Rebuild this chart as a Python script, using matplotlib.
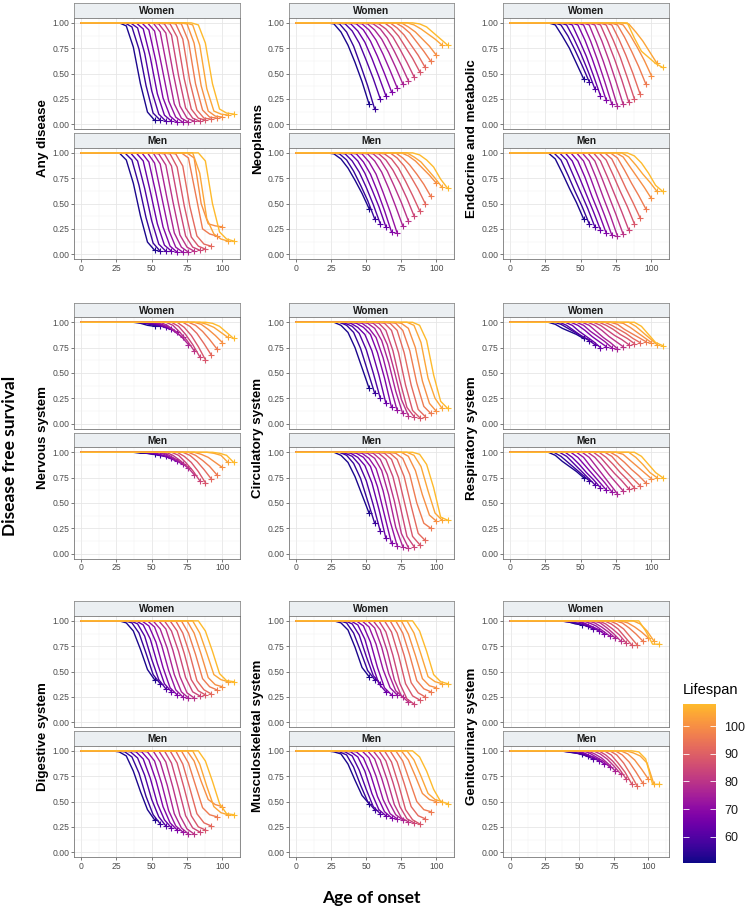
import numpy as np
import matplotlib
matplotlib.use("Agg")
import matplotlib.pyplot as plt
from matplotlib.colors import ListedColormap, Normalize
from matplotlib.cm import ScalarMappable

# lifespan groups (one curve each) and the ages, relative to lifespan,
# at which disease free survival was read off
lifespans = [52, 56, 60, 64, 68, 72, 76, 80, 84, 88, 92, 96, 100, 104, 108]
offsets = [-25, -20, -15, -10, -5, 0]

any_women = [
    [1.00, 0.97, 0.76, 0.40, 0.12, 0.04], [1.00, 0.96, 0.74, 0.38, 0.11, 0.04],
    [1.00, 0.95, 0.70, 0.33, 0.10, 0.03], [1.00, 0.94, 0.66, 0.30, 0.09, 0.03],
    [1.00, 0.93, 0.62, 0.26, 0.08, 0.02], [1.00, 0.92, 0.58, 0.23, 0.07, 0.02],
    [1.00, 0.91, 0.55, 0.20, 0.06, 0.02], [0.99, 0.90, 0.52, 0.18, 0.06, 0.03],
    [0.99, 0.88, 0.48, 0.16, 0.06, 0.03], [0.99, 0.86, 0.45, 0.15, 0.06, 0.04],
    [0.99, 0.84, 0.42, 0.14, 0.06, 0.05], [0.99, 0.82, 0.40, 0.14, 0.07, 0.06],
    [0.99, 0.80, 0.38, 0.13, 0.08, 0.07], [0.98, 0.78, 0.35, 0.13, 0.10, 0.09],
    [0.98, 0.80, 0.40, 0.15, 0.11, 0.10]]
any_men = [
    [1.00, 0.93, 0.70, 0.38, 0.12, 0.04], [1.00, 0.93, 0.68, 0.36, 0.11, 0.03],
    [1.00, 0.92, 0.65, 0.33, 0.10, 0.03], [1.00, 0.92, 0.62, 0.30, 0.09, 0.03],
    [1.00, 0.91, 0.60, 0.27, 0.08, 0.02], [1.00, 0.90, 0.57, 0.24, 0.07, 0.02],
    [1.00, 0.89, 0.54, 0.21, 0.07, 0.02], [0.99, 0.88, 0.52, 0.19, 0.07, 0.03],
    [0.99, 0.87, 0.50, 0.18, 0.07, 0.04], [0.99, 0.86, 0.48, 0.17, 0.08, 0.05],
    [0.99, 0.87, 0.47, 0.18, 0.10, 0.08], [1.00, 0.95, 0.60, 0.25, 0.20, 0.18],
    [1.00, 0.95, 0.50, 0.30, 0.28, 0.27], [1.00, 0.80, 0.35, 0.20, 0.15, 0.13],
    [1.00, 0.92, 0.50, 0.22, 0.15, 0.13]]
neo_women = [
    [0.99, 0.91, 0.78, 0.61, 0.42, 0.20], [0.99, 0.91, 0.77, 0.58, 0.38, 0.15],
    [0.99, 0.92, 0.80, 0.63, 0.45, 0.25], [0.99, 0.92, 0.81, 0.65, 0.47, 0.28],
    [0.99, 0.93, 0.82, 0.67, 0.50, 0.32], [0.99, 0.93, 0.83, 0.69, 0.53, 0.36],
    [0.99, 0.93, 0.84, 0.71, 0.56, 0.40], [0.99, 0.94, 0.85, 0.72, 0.58, 0.43],
    [0.99, 0.94, 0.86, 0.74, 0.61, 0.47], [1.00, 0.95, 0.87, 0.76, 0.65, 0.52],
    [1.00, 0.95, 0.88, 0.78, 0.68, 0.56], [1.00, 0.96, 0.90, 0.81, 0.72, 0.62],
    [1.00, 0.96, 0.91, 0.84, 0.77, 0.68], [1.00, 0.98, 0.94, 0.89, 0.84, 0.78],
    [1.00, 0.99, 0.96, 0.90, 0.84, 0.78]]
neo_men = [
    [0.99, 0.94, 0.85, 0.73, 0.60, 0.45], [0.99, 0.93, 0.82, 0.68, 0.53, 0.35],
    [0.99, 0.92, 0.81, 0.66, 0.49, 0.30], [0.99, 0.92, 0.80, 0.64, 0.47, 0.27],
    [0.99, 0.91, 0.79, 0.62, 0.43, 0.22], [0.99, 0.91, 0.79, 0.61, 0.42, 0.21],
    [0.99, 0.92, 0.81, 0.65, 0.47, 0.28], [0.99, 0.93, 0.82, 0.67, 0.51, 0.33],
    [0.99, 0.93, 0.83, 0.70, 0.55, 0.38], [0.99, 0.94, 0.85, 0.72, 0.58, 0.43],
    [1.00, 0.95, 0.87, 0.76, 0.64, 0.50], [1.00, 0.95, 0.88, 0.79, 0.69, 0.57],
    [1.00, 0.97, 0.92, 0.85, 0.78, 0.70], [1.00, 0.96, 0.91, 0.83, 0.75, 0.66],
    [1.00, 0.98, 0.93, 0.86, 0.74, 0.65]]
endo_women = [
    [1.00, 0.98, 0.87, 0.75, 0.60, 0.45], [1.00, 0.98, 0.87, 0.73, 0.58, 0.42],
    [1.00, 0.98, 0.85, 0.70, 0.53, 0.35], [1.00, 0.98, 0.83, 0.67, 0.48, 0.28],
    [1.00, 0.98, 0.83, 0.65, 0.45, 0.24], [1.00, 0.98, 0.82, 0.63, 0.42, 0.20],
    [1.00, 0.98, 0.81, 0.62, 0.41, 0.18], [1.00, 0.98, 0.82, 0.63, 0.42, 0.20],
    [1.00, 0.98, 0.82, 0.64, 0.44, 0.22], [1.00, 0.98, 0.83, 0.66, 0.46, 0.25],
    [1.00, 0.98, 0.84, 0.68, 0.50, 0.30], [1.00, 0.98, 0.86, 0.72, 0.57, 0.40],
    [1.00, 0.98, 0.88, 0.76, 0.63, 0.48], [1.00, 0.99, 0.91, 0.82, 0.71, 0.60],
    [1.00, 0.85, 0.72, 0.66, 0.60, 0.56]]
endo_men = [
    [1.00, 0.94, 0.80, 0.65, 0.51, 0.35], [1.00, 0.93, 0.78, 0.62, 0.47, 0.30],
    [1.00, 0.93, 0.77, 0.61, 0.45, 0.27], [1.00, 0.92, 0.76, 0.59, 0.42, 0.24],
    [1.00, 0.92, 0.76, 0.57, 0.40, 0.21], [1.00, 0.92, 0.75, 0.56, 0.38, 0.19],
    [1.00, 0.92, 0.75, 0.56, 0.38, 0.18], [1.00, 0.92, 0.75, 0.57, 0.39, 0.20],
    [1.00, 0.92, 0.76, 0.59, 0.42, 0.24], [1.00, 0.93, 0.78, 0.62, 0.47, 0.30],
    [1.00, 0.94, 0.80, 0.65, 0.51, 0.36], [1.00, 0.95, 0.83, 0.70, 0.58, 0.45],
    [1.00, 0.96, 0.86, 0.76, 0.66, 0.55], [1.00, 0.96, 0.88, 0.79, 0.71, 0.62],
    [1.00, 0.97, 0.90, 0.80, 0.68, 0.62]]
nerv_women = [
    [1.00, 1.00, 1.00, 0.99, 0.97, 0.96], [1.00, 1.00, 1.00, 0.99, 0.97, 0.96],
    [1.00, 1.00, 0.99, 0.98, 0.97, 0.95], [1.00, 1.00, 0.99, 0.98, 0.95, 0.93],
    [1.00, 1.00, 0.99, 0.97, 0.94, 0.90], [1.00, 1.00, 0.98, 0.95, 0.90, 0.85],
    [1.00, 1.00, 0.97, 0.92, 0.86, 0.78], [1.00, 1.00, 0.97, 0.90, 0.82, 0.72],
    [1.00, 1.00, 0.96, 0.88, 0.78, 0.66], [1.00, 1.00, 0.95, 0.87, 0.76, 0.63],
    [1.00, 1.00, 0.96, 0.89, 0.79, 0.68], [1.00, 1.00, 0.97, 0.91, 0.83, 0.74],
    [1.00, 1.00, 0.98, 0.93, 0.87, 0.80], [1.00, 1.00, 0.98, 0.95, 0.90, 0.85],
    [1.00, 1.00, 0.99, 0.96, 0.90, 0.84]]
nerv_men = [
    [1.00, 1.00, 1.00, 0.99, 0.99, 0.98], [1.00, 1.00, 1.00, 0.99, 0.98, 0.97],
    [1.00, 1.00, 1.00, 0.99, 0.97, 0.96], [1.00, 1.00, 0.99, 0.98, 0.96, 0.94],
    [1.00, 1.00, 0.99, 0.97, 0.94, 0.91], [1.00, 1.00, 0.99, 0.96, 0.92, 0.88],
    [1.00, 1.00, 0.98, 0.94, 0.90, 0.84], [1.00, 1.00, 0.97, 0.92, 0.86, 0.78],
    [1.00, 1.00, 0.97, 0.90, 0.82, 0.72], [1.00, 1.00, 0.96, 0.90, 0.81, 0.70],
    [1.00, 1.00, 0.97, 0.91, 0.83, 0.74], [1.00, 1.00, 0.97, 0.92, 0.86, 0.78],
    [1.00, 1.00, 0.98, 0.95, 0.90, 0.85], [1.00, 1.00, 1.00, 0.99, 0.97, 0.90],
    [1.00, 1.00, 1.00, 0.99, 0.97, 0.90]]
circ_women = [
    [1.00, 0.97, 0.90, 0.75, 0.55, 0.35], [1.00, 0.97, 0.90, 0.74, 0.52, 0.30],
    [0.99, 0.96, 0.89, 0.73, 0.50, 0.25], [0.99, 0.95, 0.88, 0.72, 0.48, 0.20],
    [0.99, 0.95, 0.88, 0.70, 0.45, 0.16], [0.99, 0.94, 0.85, 0.65, 0.38, 0.13],
    [0.99, 0.94, 0.82, 0.60, 0.32, 0.10], [0.99, 0.93, 0.78, 0.52, 0.24, 0.08],
    [0.99, 0.92, 0.72, 0.42, 0.16, 0.07], [0.99, 0.92, 0.70, 0.38, 0.13, 0.06],
    [0.99, 0.92, 0.70, 0.38, 0.14, 0.07], [0.99, 0.92, 0.72, 0.40, 0.17, 0.10],
    [0.99, 0.94, 0.75, 0.42, 0.20, 0.12], [1.00, 0.97, 0.80, 0.45, 0.25, 0.15],
    [1.00, 0.97, 0.82, 0.48, 0.22, 0.15]]
circ_men = [
    [1.00, 0.97, 0.90, 0.76, 0.58, 0.40], [1.00, 0.97, 0.89, 0.74, 0.52, 0.30],
    [0.99, 0.96, 0.88, 0.72, 0.48, 0.22], [0.99, 0.95, 0.87, 0.70, 0.44, 0.15],
    [0.99, 0.95, 0.86, 0.66, 0.38, 0.10], [0.99, 0.94, 0.84, 0.62, 0.32, 0.08],
    [0.99, 0.94, 0.82, 0.58, 0.26, 0.07], [0.99, 0.93, 0.78, 0.52, 0.20, 0.06],
    [0.99, 0.93, 0.76, 0.48, 0.17, 0.07], [0.99, 0.93, 0.75, 0.46, 0.17, 0.09],
    [0.99, 0.93, 0.76, 0.47, 0.20, 0.13], [0.99, 0.94, 0.78, 0.50, 0.30, 0.25],
    [1.00, 0.96, 0.82, 0.58, 0.38, 0.32], [1.00, 0.97, 0.86, 0.62, 0.40, 0.33],
    [1.00, 0.98, 0.88, 0.65, 0.36, 0.33]]
resp_women = [
    [1.00, 0.98, 0.94, 0.91, 0.88, 0.84], [1.00, 0.98, 0.94, 0.90, 0.86, 0.82],
    [1.00, 0.97, 0.92, 0.87, 0.83, 0.78], [1.00, 0.97, 0.91, 0.86, 0.81, 0.75],
    [1.00, 0.97, 0.92, 0.86, 0.81, 0.76], [1.00, 0.97, 0.91, 0.86, 0.81, 0.75],
    [1.00, 0.97, 0.91, 0.85, 0.80, 0.74], [1.00, 0.97, 0.92, 0.86, 0.81, 0.76],
    [1.00, 0.97, 0.92, 0.87, 0.83, 0.78], [1.00, 0.97, 0.93, 0.88, 0.84, 0.79],
    [1.00, 0.97, 0.93, 0.89, 0.84, 0.80], [1.00, 0.98, 0.93, 0.89, 0.85, 0.81],
    [1.00, 0.99, 0.95, 0.90, 0.85, 0.80], [1.00, 1.00, 0.96, 0.90, 0.84, 0.78],
    [1.00, 1.00, 0.96, 0.88, 0.80, 0.77]]
resp_men = [
    [1.00, 0.97, 0.91, 0.86, 0.81, 0.75], [1.00, 0.96, 0.90, 0.84, 0.78, 0.72],
    [1.00, 0.96, 0.89, 0.82, 0.75, 0.68], [1.00, 0.95, 0.88, 0.80, 0.73, 0.65],
    [1.00, 0.95, 0.87, 0.79, 0.71, 0.63], [1.00, 0.95, 0.86, 0.78, 0.70, 0.61],
    [1.00, 0.95, 0.86, 0.77, 0.68, 0.59], [1.00, 0.95, 0.87, 0.78, 0.70, 0.62],
    [1.00, 0.95, 0.87, 0.79, 0.72, 0.64], [1.00, 0.95, 0.88, 0.80, 0.73, 0.65],
    [1.00, 0.96, 0.88, 0.81, 0.74, 0.67], [1.00, 0.96, 0.90, 0.83, 0.77, 0.70],
    [1.00, 0.98, 0.92, 0.86, 0.80, 0.74], [1.00, 1.00, 0.95, 0.88, 0.80, 0.75],
    [1.00, 1.00, 0.96, 0.88, 0.80, 0.75]]
dig_women = [
    [1.00, 0.98, 0.90, 0.72, 0.52, 0.42], [1.00, 0.98, 0.88, 0.68, 0.47, 0.38],
    [1.00, 0.97, 0.85, 0.62, 0.42, 0.33], [1.00, 0.96, 0.82, 0.58, 0.38, 0.30],
    [1.00, 0.95, 0.79, 0.54, 0.34, 0.27], [1.00, 0.94, 0.76, 0.51, 0.32, 0.25],
    [1.00, 0.92, 0.73, 0.47, 0.30, 0.24], [1.00, 0.92, 0.71, 0.45, 0.29, 0.24],
    [1.00, 0.90, 0.70, 0.44, 0.30, 0.26], [1.00, 0.90, 0.68, 0.42, 0.31, 0.27],
    [1.00, 0.88, 0.67, 0.41, 0.32, 0.28], [1.00, 0.88, 0.67, 0.43, 0.35, 0.32],
    [1.00, 0.88, 0.67, 0.44, 0.37, 0.35], [1.00, 0.88, 0.68, 0.47, 0.42, 0.40],
    [1.00, 0.90, 0.70, 0.48, 0.41, 0.40]]
dig_men = [
    [0.99, 0.95, 0.80, 0.60, 0.42, 0.32], [0.99, 0.94, 0.78, 0.55, 0.37, 0.28],
    [0.99, 0.93, 0.76, 0.52, 0.35, 0.26], [0.99, 0.92, 0.73, 0.48, 0.32, 0.24],
    [0.99, 0.91, 0.71, 0.45, 0.29, 0.22], [0.99, 0.90, 0.68, 0.41, 0.26, 0.20],
    [1.00, 0.89, 0.66, 0.38, 0.24, 0.18], [1.00, 0.89, 0.64, 0.36, 0.23, 0.18],
    [1.00, 0.88, 0.63, 0.36, 0.24, 0.20], [1.00, 0.88, 0.63, 0.36, 0.25, 0.22],
    [1.00, 0.87, 0.63, 0.38, 0.29, 0.26], [1.00, 0.88, 0.66, 0.44, 0.37, 0.35],
    [1.00, 0.90, 0.70, 0.52, 0.47, 0.45], [1.00, 0.87, 0.65, 0.45, 0.39, 0.37],
    [1.00, 0.90, 0.70, 0.48, 0.38, 0.37]]
musc_women = [
    [1.00, 0.98, 0.91, 0.74, 0.54, 0.45], [1.00, 0.98, 0.88, 0.70, 0.51, 0.42],
    [1.00, 0.97, 0.86, 0.65, 0.46, 0.38], [1.00, 0.96, 0.82, 0.58, 0.38, 0.30],
    [1.00, 0.95, 0.79, 0.54, 0.34, 0.27], [1.00, 0.94, 0.77, 0.52, 0.34, 0.27],
    [1.00, 0.93, 0.74, 0.48, 0.31, 0.25], [1.00, 0.91, 0.70, 0.42, 0.26, 0.20],
    [1.00, 0.89, 0.66, 0.38, 0.23, 0.18], [1.00, 0.89, 0.66, 0.38, 0.26, 0.22],
    [1.00, 0.88, 0.66, 0.39, 0.29, 0.25], [1.00, 0.88, 0.66, 0.41, 0.33, 0.30],
    [1.00, 0.87, 0.66, 0.43, 0.36, 0.34], [1.00, 0.88, 0.67, 0.45, 0.40, 0.38],
    [1.00, 0.90, 0.70, 0.47, 0.40, 0.38]]
musc_men = [
    [0.99, 0.97, 0.87, 0.71, 0.56, 0.48], [0.99, 0.96, 0.84, 0.66, 0.50, 0.42],
    [0.99, 0.95, 0.81, 0.62, 0.45, 0.38], [0.99, 0.94, 0.80, 0.58, 0.42, 0.36],
    [0.99, 0.93, 0.77, 0.55, 0.40, 0.34], [1.00, 0.93, 0.75, 0.52, 0.38, 0.33],
    [1.00, 0.92, 0.73, 0.50, 0.37, 0.32], [1.00, 0.91, 0.71, 0.47, 0.34, 0.30],
    [1.00, 0.90, 0.69, 0.45, 0.33, 0.29], [1.00, 0.89, 0.67, 0.42, 0.32, 0.28],
    [1.00, 0.89, 0.68, 0.45, 0.36, 0.33], [1.00, 0.90, 0.70, 0.50, 0.42, 0.40],
    [1.00, 0.91, 0.75, 0.58, 0.52, 0.50], [1.00, 0.91, 0.75, 0.58, 0.52, 0.50],
    [1.00, 0.94, 0.80, 0.62, 0.50, 0.48]]
geni_women = [
    [1.00, 1.00, 1.00, 0.99, 0.97, 0.96], [1.00, 1.00, 0.99, 0.98, 0.97, 0.95],
    [1.00, 1.00, 0.99, 0.97, 0.95, 0.92], [1.00, 1.00, 0.99, 0.97, 0.94, 0.90],
    [1.00, 1.00, 0.98, 0.95, 0.92, 0.87], [1.00, 1.00, 0.98, 0.95, 0.90, 0.85],
    [1.00, 1.00, 0.98, 0.94, 0.89, 0.83], [1.00, 1.00, 0.98, 0.93, 0.87, 0.80],
    [1.00, 1.00, 0.97, 0.92, 0.86, 0.78], [1.00, 1.00, 0.97, 0.92, 0.84, 0.76],
    [1.00, 1.00, 0.97, 0.92, 0.84, 0.76], [1.00, 1.00, 0.98, 0.93, 0.87, 0.80],
    [1.00, 1.00, 0.98, 0.94, 0.89, 0.83], [1.00, 1.00, 1.00, 0.97, 0.90, 0.80],
    [1.00, 1.00, 1.00, 0.90, 0.77, 0.77]]
geni_men = [
    [1.00, 1.00, 1.00, 0.99, 0.98, 0.97], [1.00, 1.00, 0.99, 0.98, 0.97, 0.95],
    [1.00, 1.00, 0.99, 0.97, 0.95, 0.92], [1.00, 1.00, 0.99, 0.97, 0.94, 0.90],
    [1.00, 1.00, 0.98, 0.95, 0.92, 0.87], [1.00, 1.00, 0.98, 0.94, 0.90, 0.84],
    [1.00, 1.00, 0.97, 0.93, 0.87, 0.80], [1.00, 1.00, 0.97, 0.92, 0.85, 0.77],
    [1.00, 1.00, 0.96, 0.90, 0.82, 0.72], [1.00, 1.00, 0.96, 0.88, 0.79, 0.67],
    [1.00, 1.00, 0.96, 0.88, 0.77, 0.65], [1.00, 1.00, 0.96, 0.89, 0.79, 0.68],
    [1.00, 1.00, 0.97, 0.91, 0.82, 0.72], [1.00, 1.00, 0.98, 0.95, 0.88, 0.67],
    [1.00, 1.00, 0.99, 0.92, 0.67, 0.67]]

groups = ["Any disease", "Neoplasms", "Endocrine and metabolic",
          "Nervous system", "Circulatory system", "Respiratory system",
          "Digestive system", "Musculoskeletal system", "Genitourinary system"]
women = [any_women, neo_women, endo_women, nerv_women, circ_women,
         resp_women, dig_women, musc_women, geni_women]
men = [any_men, neo_men, endo_men, nerv_men, circ_men,
       resp_men, dig_men, musc_men, geni_men]
x_max = [105.3] * 8 + [114.9]

W, H = 746, 911
fig = plt.figure(figsize=(W / 100, H / 100), dpi=100)
plt.rcParams['font.family'] = ['Liberation Sans', 'DejaVu Sans']

cmap = ListedColormap(plt.get_cmap('plasma')(np.linspace(0, 0.85, 256)))
norm = Normalize(50.5, 108)


def px_axes(x0, y0, x1, y1):
    # pixel box (top-left origin) -> figure axes
    return fig.add_axes([x0 / W, 1 - y1 / H, (x1 - x0) / W, (y1 - y0) / H])


def strip(x0, y0, x1, y1, label):
    ax = px_axes(x0, y0, x1, y1)
    ax.set_facecolor('#EBEFF2')
    ax.set_xticks([])
    ax.set_yticks([])
    for s in ax.spines.values():
        s.set_color('#8C8C8C')
        s.set_linewidth(0.6)
    ax.spines['bottom'].set_color('#333333')
    ax.text(0.5, 0.45, label, ha='center', va='center', fontsize=7.2,
            fontweight='bold', color='#1A1A1A', transform=ax.transAxes)


def panel(x0, y0, x1, y1, rows, xmax, show_x):
    ax = px_axes(x0, y0, x1, y1)
    ax.set_xlim(-0.05 * xmax / 1.05, xmax)
    ax.set_ylim(-0.05, 1.05)
    ax.set_xticks([0, 25, 50, 75, 100])
    ax.set_xticks([12.5, 37.5, 62.5, 87.5, 112.5], minor=True)
    ax.set_yticks([0, 0.25, 0.5, 0.75, 1.0])
    ax.set_yticks([0.125, 0.375, 0.625, 0.875], minor=True)
    ax.set_yticklabels(['0.00', '0.25', '0.50', '0.75', '1.00'])
    ax.grid(which='major', color='#E6E6E6', lw=0.6)
    ax.grid(which='minor', color='#F0F0F0', lw=0.35)
    ax.set_axisbelow(True)
    ax.tick_params(which='minor', length=0)
    ax.tick_params(which='major', length=2, width=0.5, color='#444444',
                   labelsize=6.2, labelcolor='#4D4D4D', pad=1.2)
    if not show_x:
        ax.tick_params(axis='x', labelbottom=False, length=0)
    for s in ax.spines.values():
        s.set_color('#777777')
        s.set_linewidth(0.6)
    for L, vals in zip(lifespans, rows):
        c = cmap(norm(L))
        ages = [0, L - 30] + [L + o for o in offsets]
        ax.plot(ages, [1.0, 1.0] + vals, color=c, lw=1.0, solid_joinstyle='round')
        ax.plot([L], [vals[-1]], marker='+', color=c, ms=4, mew=0.8)
    return ax


cols = [(74, 240), (289, 454), (503, 669)]
tops = [3.3, 302.7, 601.3]
for k, name in enumerate(groups):
    r, c = divmod(k, 3)
    x0, x1 = cols[c]
    t = tops[r]
    strip(x0, t, x1, t + 14.5, "Women")
    panel(x0, t + 14.5, x1, t + 126, women[k], x_max[k], False)
    strip(x0, t + 130, x1, t + 144.5, "Men")
    panel(x0, t + 144.5, x1, t + 256, men[k], x_max[k], True)
    fig.text((x0 - 31) / W, 1 - (t + 135) / H, name, rotation=90,
             ha='center', va='center', fontsize=9.6, fontweight='bold')

fig.text(10 / W, 1 - 456 / H, "Disease free survival", rotation=90,
         ha='center', va='center', fontsize=12.5, fontweight='bold',
         family=['Lato', 'DejaVu Sans'])
fig.text(371 / W, 1 - 898 / H, "Age of onset", ha='center', va='center',
         fontsize=12.5, fontweight='bold', family=['Lato', 'DejaVu Sans'])

cax = px_axes(682.7, 704, 716, 863)
cb = fig.colorbar(ScalarMappable(norm=norm, cmap=cmap), cax=cax)
cb.set_ticks([60, 70, 80, 90, 100])
cb.outline.set_visible(False)
cax.tick_params(axis='y', direction='in', length=4, width=0.6, color='white',
                left=True, right=True, labelsize=9, labelcolor='#1A1A1A', pad=6)
fig.text(683 / W, 1 - 690 / H, "Lifespan", ha='left', va='center', fontsize=10.5)

fig.savefig("out.png", dpi=100)
